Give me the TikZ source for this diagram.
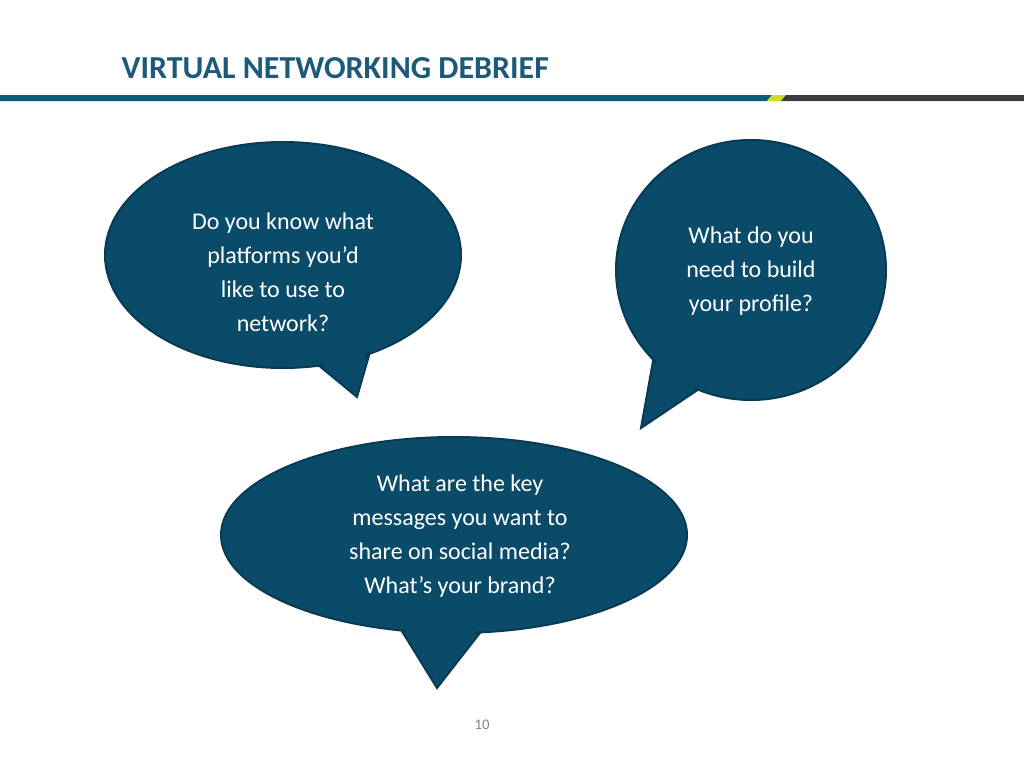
\documentclass[tikz,border=0pt]{standalone}
\usepackage{fontspec}
\setmainfont{Carlito}
\definecolor{bub}{HTML}{0B4B6A}
\definecolor{bubd}{HTML}{083A52}
\definecolor{ttl}{HTML}{1D5A7A}
\definecolor{teal}{HTML}{0E5A78}
\definecolor{lime}{HTML}{C8DC2A}
\definecolor{dgray}{HTML}{3C3C3E}
\tikzset{bubfill/.style={fill=bub},bubline/.style={draw=bubd,line width=1.5pt,fill=bub},
 qtext/.style={text=white,align=center,font=\fontsize{18}{25.5}\selectfont}}
\begin{document}
\begin{tikzpicture}[x=0.75pt,y=-0.75pt]
\useasboundingbox (0,0) rectangle (1024,768);
\node[anchor=west,text=ttl,font=\bfseries\fontsize{24}{28}\selectfont] (title) at (117,68) {VIRTUAL NETWORKING DEBRIEF};
\fill[teal] (0,95) -- (772,95) -- (767,101) -- (0,101) -- cycle;
\fill[lime] (772,95) -- (786,95) -- (781,101) -- (767,101) -- cycle;
\fill[dgray] (786,95) -- (1024,95) -- (1024,101) -- (781,101) -- cycle;
% bubble 1
\draw[bubline] (300,350) -- (357,397) -- (372,345);
\draw[bubline] (283,255) ellipse [x radius=178, y radius=113];
\fill[bubfill] (300,345) -- (357,393) -- (368,340) -- cycle;
\node[qtext] (q1) at (283,272) {Do you know what\\platforms you’d\\like to use to\\network?};
% bubble 2
\draw[bubline] (655,350) -- (641,428) -- (705,385);
\draw[bubline] (751,270) ellipse [x radius=135, y radius=130];
\fill[bubfill] (660,345) -- (644,423) -- (705,380) -- cycle;
\node[qtext] (q2) at (751,271) {What do you\\need to build\\your profile?};
% bubble 3
\draw[bubline] (395,620) -- (437,688) -- (490,620);
\draw[bubline] (454,535) ellipse [x radius=233, y radius=98];
\fill[bubfill] (397,615) -- (437,683) -- (487,615) -- cycle;
\node[qtext] (q3) at (460,536) {What are the key\\messages you want to\\share on social media?\\What’s your brand?};
\node[text=gray,font=\fontsize{11}{13}\selectfont] (pg) at (482,725) {10};
\end{tikzpicture}
\end{document}
